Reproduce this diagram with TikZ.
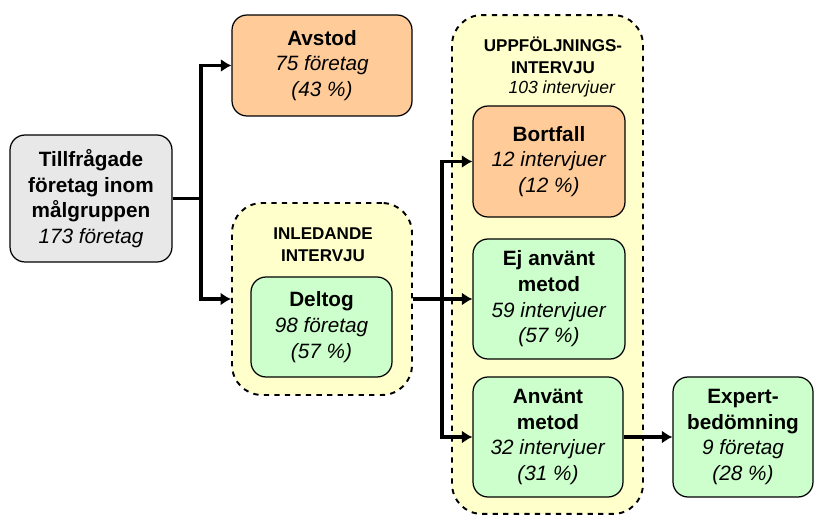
\documentclass[tikz,border=0pt]{standalone}
\usepackage{fontspec}
\setmainfont{Liberation Sans}
\usetikzlibrary{positioning}
\usetikzlibrary{arrows.meta}

\definecolor{grabox}{HTML}{E8E8E8}
\definecolor{orangebox}{HTML}{FFCC99}
\definecolor{gronbox}{HTML}{CCFFCC}
\definecolor{gulbox}{HTML}{FFFFCC}

\tikzset{
  box/.style={draw, line width=0.7pt, rounded corners=0.3cm, align=center, inner sep=0pt,
    font=\fontsize{11.8}{14.6}\selectfont},
  grupp/.style={draw, dashed, line width=1.1pt, rounded corners=0.6cm, fill=gulbox, inner sep=0pt},
  rubrik/.style={align=center, font=\fontsize{9.7}{12.5}\selectfont\bfseries},
  pil/.style={line width=2.1pt, -{Latex[length=6pt,width=7.5pt]}}
}

\begin{document}
\begin{tikzpicture}[x=0.02cm,y=-0.02cm]
\useasboundingbox (0,0) rectangle (815,516);

% grupper
\node[grupp, minimum width=3.6cm, minimum height=3.84cm](inledande) at (322,299){};
\node[grupp, minimum width=3.82cm, minimum height=9.98cm](uppfoljning) at (547.5,264.5){};
\node[rubrik](inlrubrik) at (323,245){INLEDANDE\\INTERVJU};
\node[rubrik](upprubrik) at (553,67){UPPFÖLJNINGS-\\INTERVJU\\[-1pt]
  {\fontsize{10}{11}\selectfont\mdseries\itshape\hspace*{10pt}103 intervjuer}};

% rutor
\node[box, fill=grabox, minimum width=3.24cm, minimum height=2.54cm](tillfragade) at (91,198.5)
  {\textbf{Tillfrågade}\\\textbf{företag inom}\\\textbf{målgruppen}\\\textit{173 företag}};
\node[box, fill=orangebox, minimum width=3.6cm, minimum height=2.02cm](avstod) at (322,65.5)
  {\textbf{Avstod}\\\textit{75 företag}\\\textit{(43 \%)}};
\node[box, fill=gronbox, minimum width=2.82cm, minimum height=2.0cm](deltog) at (321.5,327)
  {\textbf{Deltog}\\\textit{98 företag}\\\textit{(57 \%)}};
\node[box, fill=orangebox, minimum width=3.04cm, minimum height=2.22cm](bortfall) at (549,161.5)
  {\textbf{Bortfall}\\\textit{12 intervjuer}\\\textit{(12 \%)}};
\node[box, fill=gronbox, minimum width=3.04cm, minimum height=2.4cm](ejanvant) at (549,299)
  {\textbf{Ej använt}\\\textbf{metod}\\\textit{59 intervjuer}\\\textit{(57 \%)}};
\node[box, fill=gronbox, minimum width=3.0cm, minimum height=2.4cm](anvant) at (548,437)
  {\textbf{Använt}\\\textbf{metod}\\\textit{32 intervjuer}\\\textit{(31 \%)}};
\node[box, fill=gronbox, minimum width=2.8cm, minimum height=2.4cm](expert) at (743,437)
  {\textbf{Expert-}\\\textbf{bedömning}\\\textit{9 företag}\\\textit{(28 \%)}};

% pilar
\coordinate (split1) at (201,198.5);
\coordinate (split2) at (442,299);

\draw[line width=2.1pt] (tillfragade.east) -- (split1);
\draw[pil] (split1) |- (avstod.west);
\draw[pil] (split1) |- (inledande.west);
\draw[pil] (inledande.east) -- (ejanvant.west);
\draw[pil] (split2) |- (bortfall.west);
\draw[pil] (split2) |- (anvant.west);
\draw[pil] (anvant.east) -- (expert.west);
\end{tikzpicture}
\end{document}
